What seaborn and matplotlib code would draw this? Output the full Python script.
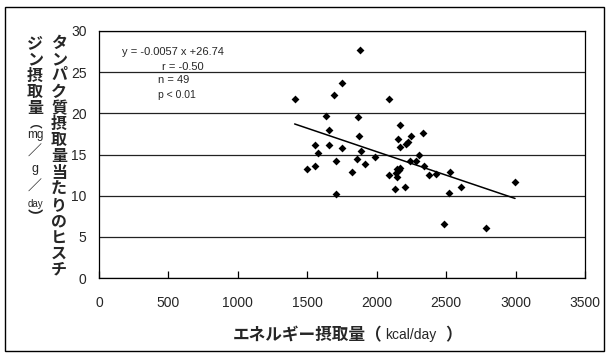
import numpy as np
import pandas as pd
import matplotlib
matplotlib.use("Agg")
import matplotlib.pyplot as plt
import seaborn as sns
from matplotlib.patches import Rectangle

# energy intake (kcal/day) vs histidine per protein (mg/g/day)
energy = [1409, 1500, 1553, 1558, 1575, 1637, 1654, 1658, 1694, 1704,
          1704, 1752, 1752, 1819, 1858, 1863, 1872, 1880, 1889, 1913,
          1985, 2088, 2088, 2129, 2139, 2148, 2148, 2168, 2158, 2151,
          2165, 2169, 2201, 2211, 2223, 2237, 2247, 2285, 2307, 2331,
          2340, 2377, 2429, 2487, 2522, 2525, 2609, 2787, 2996]
histidine = [21.7, 13.2, 16.2, 13.66, 15.2, 19.67, 16.2, 18.0, 22.2, 14.15,
             10.16, 23.66, 15.85, 12.9, 14.5, 19.6, 17.2, 27.7, 15.45, 13.9,
             14.75, 21.7, 12.56, 10.8, 12.77, 12.3, 13.25, 13.4, 13.1, 16.9,
             18.6, 15.9, 11.1, 16.3, 16.5, 14.27, 17.2, 14.27, 14.96, 17.6,
             13.66, 12.5, 12.6, 6.5, 10.3, 12.9, 11.0, 6.13, 11.6]

slope = -0.0057
intercept = 26.74
x_ticks = [0, 500, 1000, 1500, 2000, 2500, 3000, 3500]
y_ticks = [0, 5, 10, 15, 20, 25, 30]

stats_lines = ["y = -0.0057 x +26.74", "r = -0.50", "n = 49", "p < 0.01"]
ylabel_right = "タンパク質摂取量当たりのヒスチ"
ylabel_left = ["ジ", "ン", "摂", "取", "量"]

sns.set_theme(style="white")
plt.rcParams['font.family'] = ['Liberation Sans', 'Noto Sans CJK JP', 'DejaVu Sans']

W, H = 609, 354
fig = plt.figure(figsize=(W / 100, H / 100), dpi=100)
fig.patch.set_facecolor("white")

def fx(px):
    return px / W

def fy(py):
    return 1 - py / H

ax = fig.add_axes([fx(99), fy(278), fx(585) - fx(99), fy(31) - fy(278)])

df = pd.DataFrame({"energy": energy, "histidine": histidine})
sns.scatterplot(data=df, x="energy", y="histidine", marker="D", color="black",
                s=16, linewidth=0, ax=ax, zorder=3)

# regression line over the data range
xl = np.array([min(energy), max(energy)])
line_df = pd.DataFrame({"x": xl, "y": slope * xl + intercept})
sns.lineplot(data=line_df, x="x", y="y", color="black", linewidth=1.1, ax=ax, zorder=2)

ax.set_xlim(0, 3500)
ax.set_ylim(0, 30)
ax.set_xticks(x_ticks)
ax.set_yticks(y_ticks)
ax.set_xticklabels([str(t) for t in x_ticks])
ax.set_yticklabels([str(t) for t in y_ticks])
ax.tick_params(axis="x", direction="in", length=5, width=0.9, color="black",
               labelsize=10, pad=13, bottom=True)
ax.tick_params(axis="y", direction="in", length=0, labelsize=10, pad=9)
ax.yaxis.grid(True, color="#222222", linewidth=0.9)
ax.xaxis.grid(False)
for s in ax.spines.values():
    s.set_color("black")
    s.set_linewidth(0.9)
ax.set_xlabel("")
ax.set_ylabel("")

# regression stats
fig.text(fx(122), fy(52), stats_lines[0], fontsize=8, va="center", ha="left")
fig.text(fx(162), fy(67), stats_lines[1], fontsize=8, va="center", ha="left")
fig.text(fx(158), fy(80), stats_lines[2], fontsize=8, va="center", ha="left")
fig.text(fx(158), fy(95), stats_lines[3], fontsize=7.5, va="center", ha="left")

# x label
jp = ['Noto Sans CJK JP', 'DejaVu Sans']
fig.text(fx(233), fy(335), "エネルギー摂取量（", fontsize=12, fontweight="bold",
         family=jp, va="center", ha="left")
fig.text(fx(385), fy(335), "kcal/day", fontsize=10, va="center", ha="left")
fig.text(fx(445), fy(335), "）", fontsize=12, fontweight="bold",
         family=jp, va="center", ha="left")

# y label, vertical writing in two columns
for i, ch in enumerate(ylabel_right):
    fig.text(fx(59), fy(43 + i * 16.2), ch, fontsize=11.5, fontweight="bold",
             family=jp, va="center", ha="center")
for i, ch in enumerate(ylabel_left):
    fig.text(fx(35), fy(43 + i * 16.2), ch, fontsize=11.5, fontweight="bold",
             family=jp, va="center", ha="center")
fig.text(fx(36), fy(124), "︵", fontsize=9, fontweight="bold", family=jp,
         va="center", ha="center")
fig.text(fx(35), fy(135), "mg", fontsize=8.5, va="center", ha="center")
fig.text(fx(35), fy(152), "／", fontsize=10, fontweight="bold", family=jp,
         va="center", ha="center")
fig.text(fx(35), fy(169), "g", fontsize=9, va="center", ha="center")
fig.text(fx(35), fy(187), "／", fontsize=10, fontweight="bold", family=jp,
         va="center", ha="center")
fig.text(fx(35), fy(204), "day", fontsize=7, va="center", ha="center")
fig.text(fx(35), fy(217), "︶", fontsize=11, fontweight="bold", family=jp,
         va="center", ha="center")

# chart area border
fig.patches.append(Rectangle((fx(5), fy(351)), fx(604) - fx(5), fy(7) - fy(351),
                             transform=fig.transFigure, fill=False,
                             edgecolor="black", linewidth=1.0))

fig.savefig("out.png", dpi=100)
